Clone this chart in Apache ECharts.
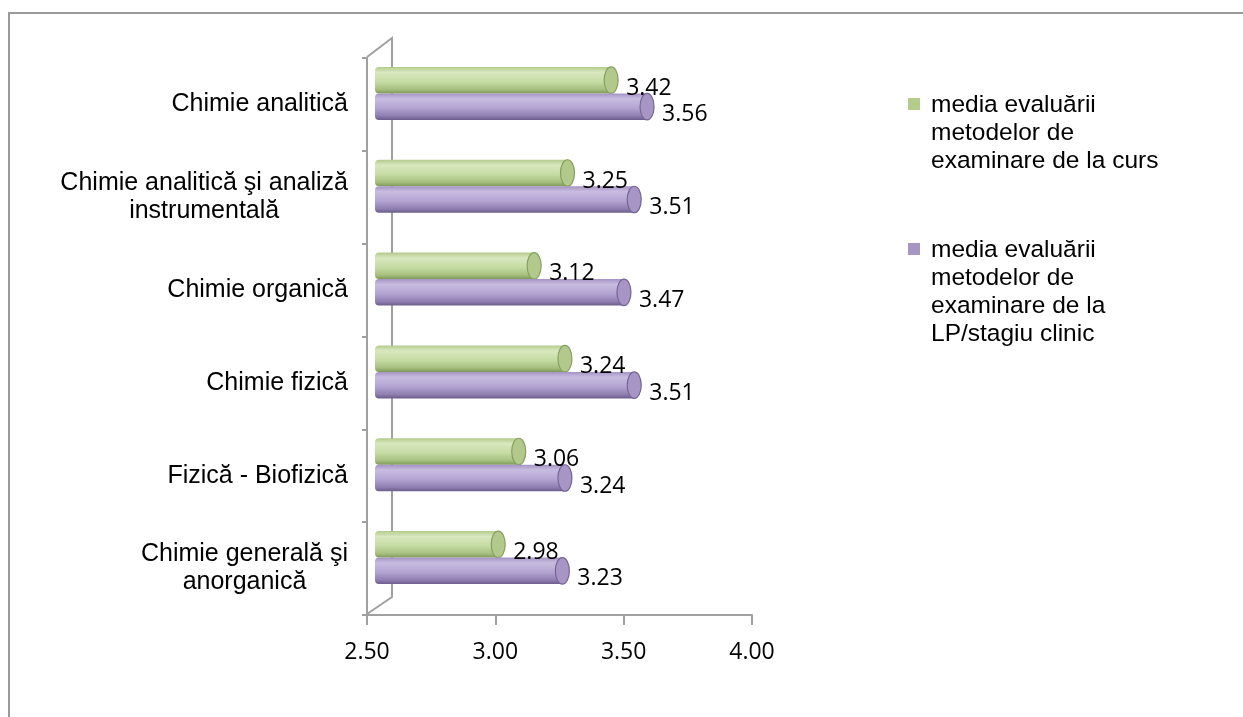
<!DOCTYPE html>
<html><head><meta charset="utf-8">
<script src="https://cdn.jsdelivr.net/npm/echarts@6/dist/echarts.min.js"></script>
<style>
html,body{margin:0;padding:0;background:#fff;overflow:hidden}
#frame{position:absolute;left:8px;top:12px;width:1300px;height:800px;border-left:2px solid #9a9a9a;border-top:2px solid #9a9a9a;box-sizing:border-box}
#chart{position:absolute;left:0;top:0;width:1243px;height:717px}
</style></head>
<body><div id="frame"></div><div id="chart"></div>
<script>
const categories = ['Chimie analitică', 'Chimie analitică şi analiză\ninstrumentală', 'Chimie organică', 'Chimie fizică', 'Fizică - Biofizică', 'Chimie generală şi\nanorganică'];
const seriesNames = ['media evaluării\nmetodelor de\nexaminare de la curs', 'media evaluării\nmetodelor de\nexaminare de la\nLP/stagiu clinic'];
const cursValues = [3.42, 3.25, 3.12, 3.24, 3.06, 2.98];
const lpValues = [3.56, 3.51, 3.47, 3.51, 3.24, 3.23];
const xTicks = [2.5, 3.0, 3.5, 4.0];

const X_MIN = xTicks[0], X_MAX = xTicks[xTicks.length - 1];
const AXIS_COLOR = '#a0a0a0';
const styles = [
  { stops: ['#b3cb8b', '#d8e7bf', '#c6dca4', '#a6bf7f', '#7e9957'], cap: '#b2c98b', capStroke: '#86a061', legend: '#b3cb8b' },
  { stops: ['#a593c4', '#c8bce0', '#b3a4d2', '#8f7eb0', '#6b5c8b'], cap: '#a795c5', capStroke: '#766697', legend: '#a796c4' }
];

function renderCyl(params, api) {
  const ci = api.value(0), v = api.value(1);
  const c0 = api.coord([X_MIN, ci]);
  const c1 = api.coord([v, ci]);
  const s = params.seriesIndex;
  const H = 26.5, DX = 8, DY = -11, RX = 7;
  const cy = c0[1] + DY;
  const y = s === 0 ? cy - H : cy;
  const x0 = c0[0] + DX, x1 = c1[0] + DX;
  const st = styles[s];
  const grad = new echarts.graphic.LinearGradient(0, 0, 0, 1, [
    { offset: 0, color: st.stops[0] },
    { offset: 0.2, color: st.stops[1] },
    { offset: 0.55, color: st.stops[2] },
    { offset: 0.85, color: st.stops[3] },
    { offset: 1, color: st.stops[4] }
  ]);
  return {
    type: 'group',
    children: [
      { type: 'rect', shape: { x: x0, y: y, width: x1 - x0, height: H, r: [4, 0, 0, 4] }, style: { fill: grad } },
      { type: 'ellipse', shape: { cx: x1, cy: y + H / 2, rx: RX, ry: H / 2 }, style: { fill: st.cap, stroke: st.capStroke, lineWidth: 1.2 } },
      { type: 'text', z2: 100, style: { text: v.toFixed(2), x: x1 + RX + 8, y: y + H / 2 + 8, align: 'left', verticalAlign: 'middle', font: '23px "Open Sans"', fill: '#000' } }
    ]
  };
}

const chart = echarts.init(document.getElementById('chart'), null, { renderer: 'canvas' });
const legendGraphics = [];
const legendTops = [91, 236];
seriesNames.forEach((n, i) => {
  legendGraphics.push({ type: 'rect', left: 908, top: legendTops[i] + 7, shape: { width: 12, height: 12 }, style: { fill: styles[i].legend } });
  legendGraphics.push({ type: 'text', left: 931, top: legendTops[i], style: { text: n, font: '24.5px "Liberation Sans"', lineHeight: 28, fill: '#000' } });
});

chart.setOption({
  animation: false,
  grid: { left: 367, right: 491, top: 58, bottom: 102, containLabel: false },
  xAxis: {
    type: 'value', min: X_MIN, max: X_MAX, interval: 0.5,
    splitLine: { show: false },
    axisLine: { show: true, lineStyle: { color: AXIS_COLOR, width: 2 } },
    axisTick: { show: true, length: 10, lineStyle: { color: AXIS_COLOR, width: 2 } },
    axisLabel: { margin: 26, fontSize: 23, fontFamily: 'Open Sans', color: '#000', formatter: v => v.toFixed(2) }
  },
  yAxis: {
    type: 'category', data: categories, inverse: true,
    axisLine: { show: true, lineStyle: { color: AXIS_COLOR, width: 2 } },
    axisTick: { show: true, length: 5, lineStyle: { color: AXIS_COLOR, width: 2 } },
    axisLabel: {
      margin: 19, color: '#000',
      formatter: v => v.split('\n').map(l => '{c|' + l + '}').join('\n'),
      rich: { c: { align: 'center', fontSize: 25, fontFamily: 'Liberation Sans', lineHeight: 28, color: '#000' } }
    }
  },
  graphic: [
    { type: 'polyline', z: 1, shape: { points: [[367, 614], [392, 597], [392, 38], [367, 57]] }, style: { stroke: AXIS_COLOR, lineWidth: 2, fill: null } }
  ].concat(legendGraphics),
  series: [
    { type: 'custom', name: seriesNames[0], renderItem: renderCyl, encode: { x: 1, y: 0 }, data: cursValues.map((v, i) => [i, v]) },
    { type: 'custom', name: seriesNames[1], renderItem: renderCyl, encode: { x: 1, y: 0 }, data: lpValues.map((v, i) => [i, v]) }
  ]
});
</script>
</body></html>
